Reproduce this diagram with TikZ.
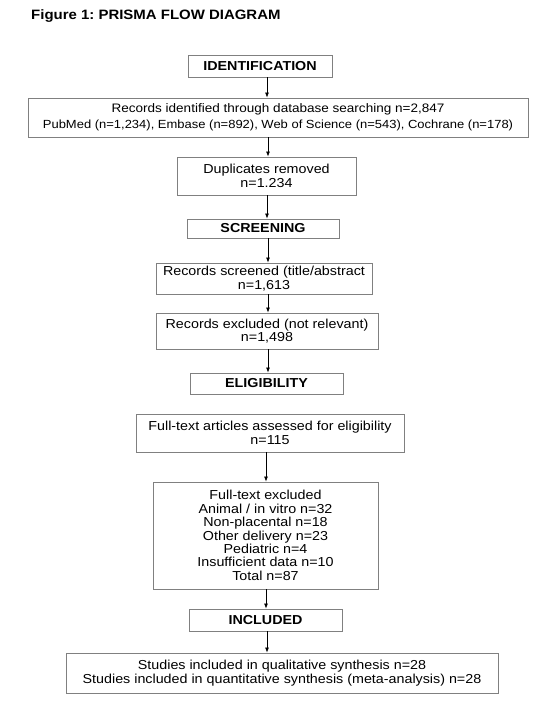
\documentclass[tikz,border=0pt]{standalone}
\usepackage{fontspec}
\setmainfont[FakeStretch=1.1]{Liberation Sans}
\usetikzlibrary{arrows.meta}
\frenchspacing
\definecolor{bord}{RGB}{128,128,128}
\tikzset{
  box/.style={draw=bord, line width=0.9pt, inner sep=0pt, align=center, font=\fontsize{13}{13.4}\selectfont},
  head/.style={box, font=\bfseries\fontsize{13}{13.4}\selectfont},
  arr/.style={draw=black, line width=0.7pt, -{Latex[length=5pt,width=4pt]}}
}
\newcommand\bx[7]{\node[#1, minimum width={#4-#3}, minimum height={#6-#5}] (#2) at ({(#3+#4)/2},{-(#5+#6)/2}) {#7};}
\begin{document}
\begin{tikzpicture}[x=1pt,y=1pt]
\useasboundingbox (0,0) rectangle (550,-706);
\node[anchor=west, font=\bfseries\fontsize{13.6}{14}\selectfont, inner sep=0pt] (title) at (31,-16) {Figure 1: PRISMA FLOW DIAGRAM};
\bx{head}{id}{188}{332}{55}{77}{IDENTIFICATION}
\bx{box}{rec}{28}{528}{98}{137}{{\fontsize{12.3}{13}\selectfont Records identified through database searching n=2,847}\\[3pt]{\fontsize{11.8}{13}\selectfont PubMed (n=1,234), Embase (n=892), Web of Science (n=543), Cochrane (n=178)}}
\bx{box}{dup}{177}{356}{157}{195}{Duplicates removed\\n=1.234}
\bx{head}{scr}{187}{339}{219}{238}{SCREENING}
\bx{box}{rs}{156}{372}{263}{294}{Records screened (title/abstract\\n=1,613}
\bx{box}{rx}{156}{378}{313}{349}{Records excluded (not relevant)\\n=1,498}
\bx{head}{eli}{190}{343}{373}{394}{ELIGIBILITY}
\bx{box}{ft}{136}{404}{414}{452}{Full-text articles assessed for eligibility\\n=115}
\bx{box}{fx}{153}{378}{482}{589}{Full-text excluded\\Animal / in vitro n=32\\Non-placental n=18\\Other delivery n=23\\Pediatric n=4\\Insufficient data n=10\\Total n=87}
\bx{head}{inc}{189}{342}{609}{631}{INCLUDED}
\bx{box}{stu}{66}{498}{653}{693}{Studies included in qualitative synthesis n=28\\Studies included in quantitative synthesis (meta-analysis) n=28}
\draw[arr] (id.south -| 267,0) -- (rec.north -| 267,0);
\draw[arr] (rec.south -| 268,0) -- (dup.north -| 268,0);
\draw[arr] (dup.south -| 267,0) -- (scr.north -| 267,0);
\draw[arr] (scr.south -| 268,0) -- (rs.north -| 268,0);
\draw[arr] (rs.south -| 268,0) -- (rx.north -| 268,0);
\draw[arr] (rx.south -| 268,0) -- (eli.north -| 268,0);
\draw[arr] (ft.south -| 266,0) -- (fx.north -| 266,0);
\draw[arr] (fx.south -| 266,0) -- (inc.north -| 266,0);
\draw[arr] (inc.south -| 267,0) -- (stu.north -| 267,0);
\end{tikzpicture}
\end{document}
